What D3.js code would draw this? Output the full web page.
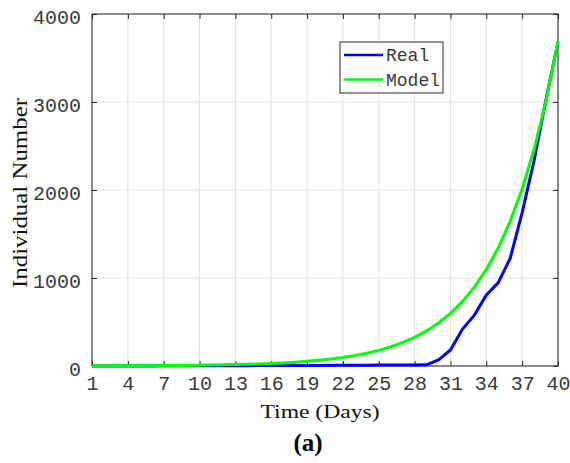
<!DOCTYPE html>
<html><head><meta charset="utf-8">
<script src="https://cdn.jsdelivr.net/npm/d3@7"></script>
<style>body{margin:0;background:#fff}svg{display:block}</style>
</head><body>
<script>
const days = d3.range(1, 41);
const realValues = [0,0,0,1,1,1,2,2,2,3,3,3,4,4,5,5,6,6,7,7,8,8,9,9,10,10,11,11,14,70,182,417,578,807,947,1224,1742,2335,3030,3685];
const modelValues = [1.4,1.7,2,2.5,3.1,3.8,4.6,5.7,7,8.5,10,13,16,19,24,29,35,43,53,65,79,97,119,145,178,218,267,326,399,489,598,732,896,1097,1343,1644,2012,2463,3015,3690];
const xTicks = [1,4,7,10,13,16,19,22,25,28,31,34,37,40];
const yTicks = [0,1000,2000,3000,4000];
const seriesNames = ["Real","Model"];
const seriesColors = ["#0000ff","#00ff00"];

const W = 570, H = 463;
const L = 92, R = 558, T = 14, B = 366;
const svg = d3.select("body").append("svg").attr("width", W).attr("height", H);
const x = d3.scaleLinear().domain([1,40]).range([L,R]);
const y = d3.scaleLinear().domain([0,4000]).range([B,T]);
const axisColor = "#262626";
const tickTextColor = "#3a3a3a";

// grid
svg.append("g").selectAll("line").data(xTicks).join("line")
  .attr("x1", d=>x(d)).attr("x2", d=>x(d)).attr("y1", T).attr("y2", B)
  .attr("stroke", "#e3e3e3").attr("stroke-width", 1);
svg.append("g").selectAll("line").data(yTicks).join("line")
  .attr("y1", d=>y(d)).attr("y2", d=>y(d)).attr("x1", L).attr("x2", R)
  .attr("stroke", "#e3e3e3").attr("stroke-width", 1);

// axes
const fmt = d3.format("d");
const ax = (g, a) => { g.call(a); g.select(".domain").remove(); g.selectAll("line").attr("stroke", axisColor); };
svg.append("g").attr("transform", `translate(0,${B})`)
  .call(g => ax(g, d3.axisBottom(x).tickValues(xTicks).tickSize(-5).tickPadding(12).tickFormat(fmt)))
  .selectAll("text").attr("font-family","Liberation Mono, monospace").attr("font-size",20).attr("fill",tickTextColor).attr("dy","0.62em");
svg.append("g").attr("transform", `translate(0,${T})`)
  .call(g => ax(g, d3.axisTop(x).tickValues(xTicks).tickSize(-5).tickFormat("")));
svg.append("g").attr("transform", `translate(${L},0)`)
  .call(g => ax(g, d3.axisLeft(y).tickValues(yTicks).tickSize(-5).tickPadding(11).tickFormat(fmt)))
  .selectAll("text").attr("font-family","Liberation Mono, monospace").attr("font-size",20).attr("fill",tickTextColor).attr("dy","0.48em");
svg.append("g").attr("transform", `translate(${R},0)`)
  .call(g => ax(g, d3.axisRight(y).tickValues(yTicks).tickSize(-5).tickFormat("")));
svg.append("rect").attr("x", L).attr("y", T).attr("width", R-L).attr("height", B-T)
  .attr("fill","none").attr("stroke", axisColor).attr("stroke-width", 1);

// lines
const line = d3.line().x((d,i)=>x(days[i])).y(d=>y(d));
[realValues, modelValues].forEach((vals, k) => {
  svg.append("path").datum(vals).attr("d", line).attr("fill","none")
    .attr("stroke", seriesColors[k]).attr("stroke-width", 3).attr("stroke-linejoin","round");
});

// legend
const lg = svg.append("g");
lg.append("rect").attr("x", 340).attr("y", 42).attr("width", 103).attr("height", 51)
  .attr("fill","#fff").attr("stroke", axisColor).attr("stroke-width", 1);
seriesNames.forEach((n, k) => {
  const yy = 55 + k*24.5;
  lg.append("line").attr("x1", 344).attr("x2", 383).attr("y1", yy).attr("y2", yy)
    .attr("stroke", seriesColors[k]).attr("stroke-width", 2.5);
  lg.append("text").attr("x", 386).attr("y", yy).attr("dy","0.35em")
    .attr("font-family","Liberation Mono, monospace").attr("font-size",18).attr("fill",tickTextColor).text(n);
});

// labels
svg.append("text").attr("x", 320).attr("y", 418).attr("text-anchor","middle")
  .attr("font-family","Liberation Serif, serif").attr("font-size",19)
  .attr("textLength",119).attr("lengthAdjust","spacingAndGlyphs").attr("fill","#111").text("Time (Days)");
svg.append("text").attr("transform","translate(27,193) rotate(-90)").attr("text-anchor","middle")
  .attr("font-family","Liberation Serif, serif").attr("font-size",22)
  .attr("textLength",190).attr("lengthAdjust","spacingAndGlyphs").attr("fill","#111").text("Individual Number");
svg.append("text").attr("x", 308).attr("y", 451).attr("text-anchor","middle")
  .attr("font-family","Liberation Serif, serif").attr("font-size",25).attr("font-weight","bold")
  .attr("fill","#000").text("(a)");
</script>
</body></html>
